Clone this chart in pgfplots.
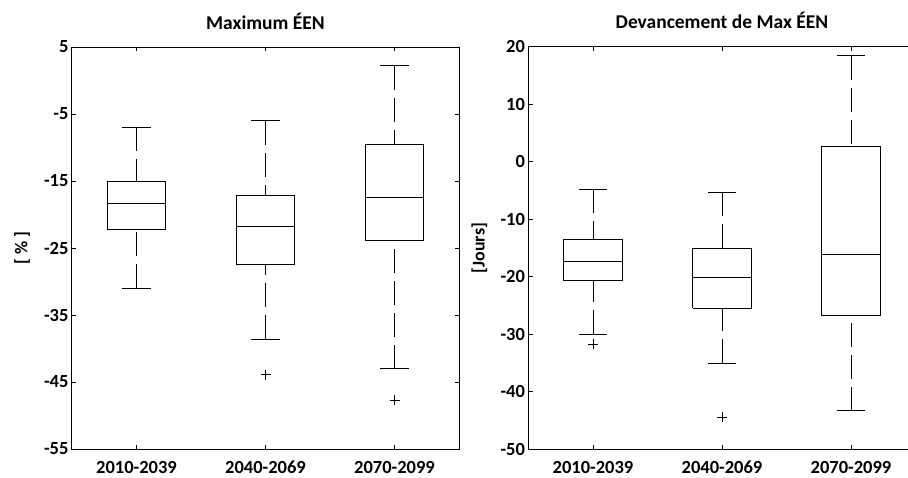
\documentclass[border=0pt]{standalone}
\usepackage{pgfplots}
\pgfplotsset{compat=1.18}
\usepackage{fontspec}
\setmainfont{Carlito}

\pgfplotsset{
  mybox/.style={
    width=387pt, height=402pt, scale only axis,
    xmin=0.5, xmax=3.5,
    xtick={1,2,3}, xticklabels={2010-2039,2040-2069,2070-2099},
    tick align=inside, tick pos=both, major tick length=4pt,
    axis line style={line width=1pt},
    every tick/.style={black, line width=0.8pt},
    /pgf/number format/assume math mode=true,
    ticklabel style={font=\fontsize{18.5}{21}\selectfont\bfseries},
    xticklabel style={anchor=base, yshift=-24pt},
    every axis title/.style={at={(0.5,1)}, anchor=base, yshift=18pt, font=\fontsize{19.5}{22}\selectfont\bfseries},
    every axis y label/.style={rotate=90, anchor=center, font=\fontsize{18}{21}\selectfont\bfseries},
    unbounded coords=jump,
    solidline/.style={black, line width=1pt, solid, no markers},
    dashline/.style={black, line width=1pt, dash pattern=on 24pt off 8pt, no markers},
    outl/.style={only marks, mark=+, mark size=5pt, mark options={black, line width=0.9pt, solid}},
  }
}

\begin{document}
\begin{tikzpicture}
\begin{axis}[mybox, at={(72pt,-449pt)}, anchor=south west,
  ymin=-55, ymax=5, ytick={-55,-45,...,5},
  title={Maximum ÉEN}, ylabel={[ \% ]},
  every axis y label/.append style={at={(axis description cs:-0.129,0.5)}}]
% boxes, medians, caps
\addplot[solidline] coordinates {
 (0.775,-22.2) (1.225,-22.2) (1.225,-15) (0.775,-15) (0.775,-22.2) (nan,nan)
 (0.775,-18.3) (1.225,-18.3) (nan,nan)
 (0.89,-7) (1.11,-7) (nan,nan) (0.89,-31) (1.11,-31) (nan,nan)
 (1.775,-27.4) (2.225,-27.4) (2.225,-17.2) (1.775,-17.2) (1.775,-27.4) (nan,nan)
 (1.775,-21.8) (2.225,-21.8) (nan,nan)
 (1.89,-6) (2.11,-6) (nan,nan) (1.89,-38.6) (2.11,-38.6) (nan,nan)
 (2.775,-23.9) (3.225,-23.9) (3.225,-9.5) (2.775,-9.5) (2.775,-23.9) (nan,nan)
 (2.775,-17.5) (3.225,-17.5) (nan,nan)
 (2.89,2.2) (3.11,2.2) (nan,nan) (2.89,-43) (3.11,-43)
};
% whiskers
\addplot[dashline] coordinates {(1,-7) (1,-15)};
\addplot[dashline] coordinates {(1,-31) (1,-22.2)};
\addplot[dashline] coordinates {(2,-6) (2,-17.2)};
\addplot[dashline] coordinates {(2,-38.6) (2,-27.4)};
\addplot[dashline] coordinates {(3,2.2) (3,-9.5)};
\addplot[dashline] coordinates {(3,-43) (3,-23.9)};
% outliers
\addplot[outl] coordinates {(2,-43.9) (3,-47.7)};
\end{axis}

\begin{axis}[mybox, at={(528.5pt,-449.3pt)}, anchor=south west, height=402.6pt,
  ymin=-50, ymax=20, ytick={-50,-40,...,20},
  title={Devancement de Max ÉEN}, ylabel={[Jours]},
  every axis y label/.append style={at={(axis description cs:-0.127,0.5)}}]
\addplot[solidline] coordinates {
 (0.775,-20.7) (1.225,-20.7) (1.225,-13.5) (0.775,-13.5) (0.775,-20.7) (nan,nan)
 (0.775,-17.4) (1.225,-17.4) (nan,nan)
 (0.89,-4.8) (1.11,-4.8) (nan,nan) (0.89,-30) (1.11,-30) (nan,nan)
 (1.775,-25.5) (2.225,-25.5) (2.225,-15) (1.775,-15) (1.775,-25.5) (nan,nan)
 (1.775,-20.2) (2.225,-20.2) (nan,nan)
 (1.89,-5.3) (2.11,-5.3) (nan,nan) (1.89,-35) (2.11,-35) (nan,nan)
 (2.775,-26.8) (3.225,-26.8) (3.225,2.7) (2.775,2.7) (2.775,-26.8) (nan,nan)
 (2.775,-16.2) (3.225,-16.2) (nan,nan)
 (2.89,18.4) (3.11,18.4) (nan,nan) (2.89,-43.3) (3.11,-43.3)
};
\addplot[dashline] coordinates {(1,-4.8) (1,-13.5)};
\addplot[dashline] coordinates {(1,-30) (1,-20.7)};
\addplot[dashline] coordinates {(2,-5.3) (2,-15)};
\addplot[dashline] coordinates {(2,-35) (2,-25.5)};
\addplot[dashline] coordinates {(3,18.4) (3,2.7)};
\addplot[dashline] coordinates {(3,-43.3) (3,-26.8)};
\addplot[outl] coordinates {(1,-31.7) (2,-44.4)};
\end{axis}
\pgfresetboundingbox
\path[use as bounding box] (0pt,0pt) rectangle (908pt,-477pt);
\end{tikzpicture}
\end{document}
